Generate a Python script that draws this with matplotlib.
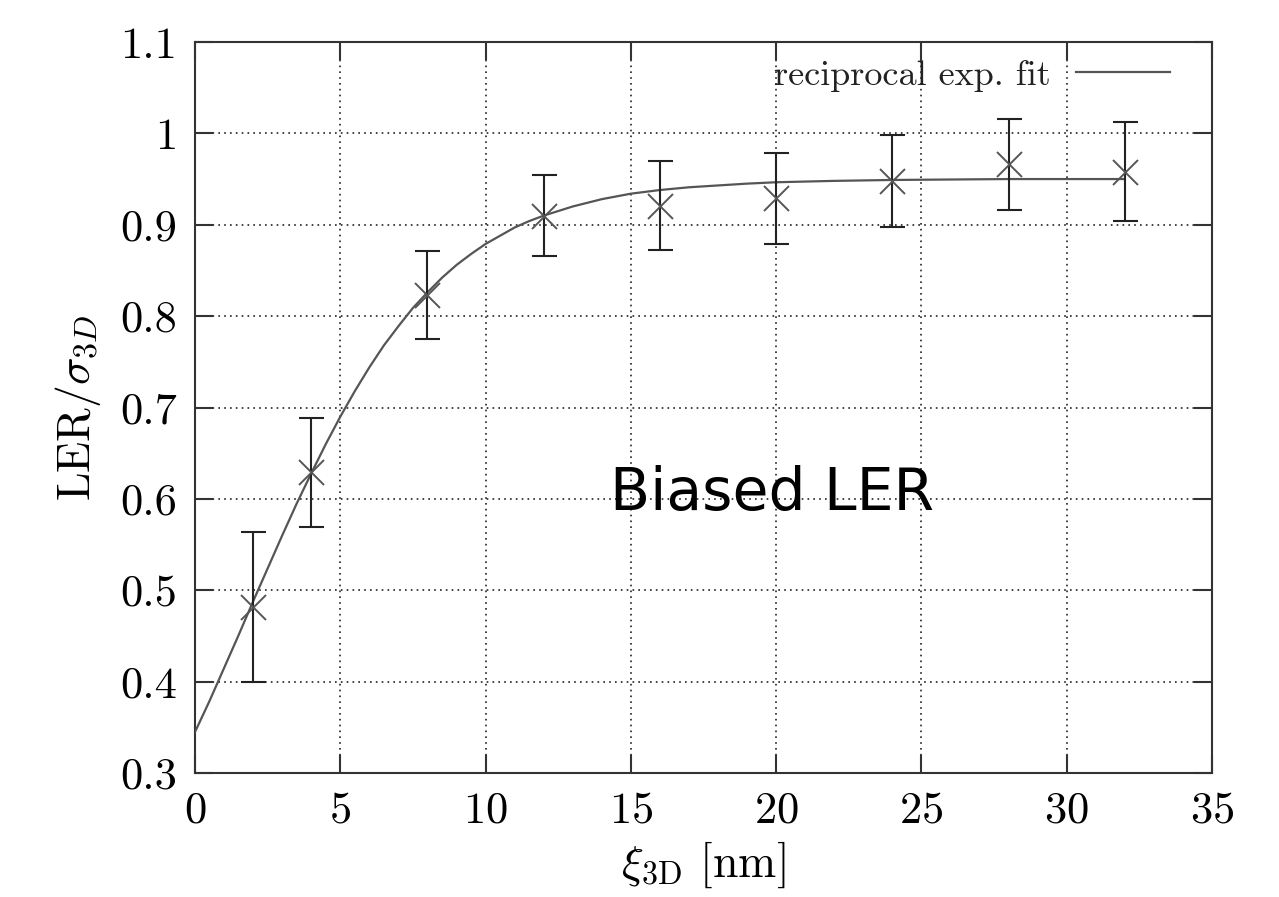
import matplotlib
matplotlib.use("Agg")
import matplotlib.pyplot as plt
from matplotlib.ticker import FuncFormatter

# measured points with error bars
xi = [2, 4, 8, 12, 16, 20, 24, 28, 32]
ler = [0.482, 0.629, 0.823, 0.910, 0.921, 0.929, 0.948, 0.966, 0.958]
err = [0.082, 0.060, 0.048, 0.044, 0.049, 0.050, 0.050, 0.050, 0.054]

# fitted curve
fit_x = [0, 0.5, 1, 1.5, 2, 2.5, 3, 3.5, 4, 4.5, 5, 5.5, 6, 6.5, 7, 7.5,
         8, 8.5, 9, 9.5, 10, 10.5, 11, 11.5, 12, 12.5, 13, 13.5, 14, 15,
         16, 17, 18, 19, 20, 22, 24, 26, 28, 30, 32]
fit_y = [0.345, 0.379, 0.415, 0.451, 0.488, 0.524, 0.560, 0.595, 0.628,
         0.660, 0.690, 0.718, 0.744, 0.768, 0.789, 0.809, 0.826, 0.842,
         0.856, 0.868, 0.879, 0.888, 0.897, 0.904, 0.910, 0.915, 0.920,
         0.924, 0.928, 0.934, 0.938, 0.941, 0.943, 0.945, 0.9465, 0.948,
         0.949, 0.9495, 0.950, 0.950, 0.950]

plt.rcParams['font.family'] = 'cmr10'
plt.rcParams['mathtext.fontset'] = 'cm'
plt.rcParams['axes.formatter.use_mathtext'] = True

fig = plt.figure(figsize=(12.79, 8.97), dpi=100)
ax = fig.add_axes([0.1525, 0.1382, 0.7951, 0.8150])

ax.plot(fit_x, fit_y, color='#555555', lw=1.6, label='reciprocal exp. fit', zorder=3)
ax.errorbar(xi, ler, yerr=err, fmt='none', ecolor='#222222', elinewidth=1.5,
            capsize=9, capthick=1.5, zorder=4)
ax.plot(xi, ler, ls='none', marker='x', ms=18, mew=1.4, color='#555555', zorder=5)

ax.set_xlim(0, 35)
ax.set_ylim(0.3, 1.1)
ax.set_xticks(range(0, 36, 5))
ax.set_yticks([0.3, 0.4, 0.5, 0.6, 0.7, 0.8, 0.9, 1.0, 1.1])
ax.yaxis.set_major_formatter(FuncFormatter(lambda v, p: '%g' % round(v, 2)))

ax.grid(True, color='#222222', ls=(0, (1, 2.5)), lw=1.2)
ax.tick_params(direction='in', length=13, width=1.5, top=True, right=True,
               labelsize=32, pad=13, color='#333333')
for s in ax.spines.values():
    s.set_linewidth(1.5)
    s.set_color('#333333')

ax.set_xlabel(r'$\xi_{\rm 3D}$ [nm]', fontsize=33, labelpad=6)
ax.set_ylabel(r'$\mathrm{LER}/\sigma_{3D}$', fontsize=33, labelpad=12)

leg = ax.legend(loc='upper right', bbox_to_anchor=(0.98, 1.006), frameon=False,
                fontsize=26, handlelength=2.6, markerfirst=False,
                borderaxespad=0.2, handletextpad=0.7)
for t in leg.get_texts():
    t.set_color('#222222')

ax.text(19.86, 0.588, 'Biased LER', fontsize=42, ha='center', va='baseline',
        family='DejaVu Sans', zorder=6)

fig.savefig('out.png', dpi=100)
